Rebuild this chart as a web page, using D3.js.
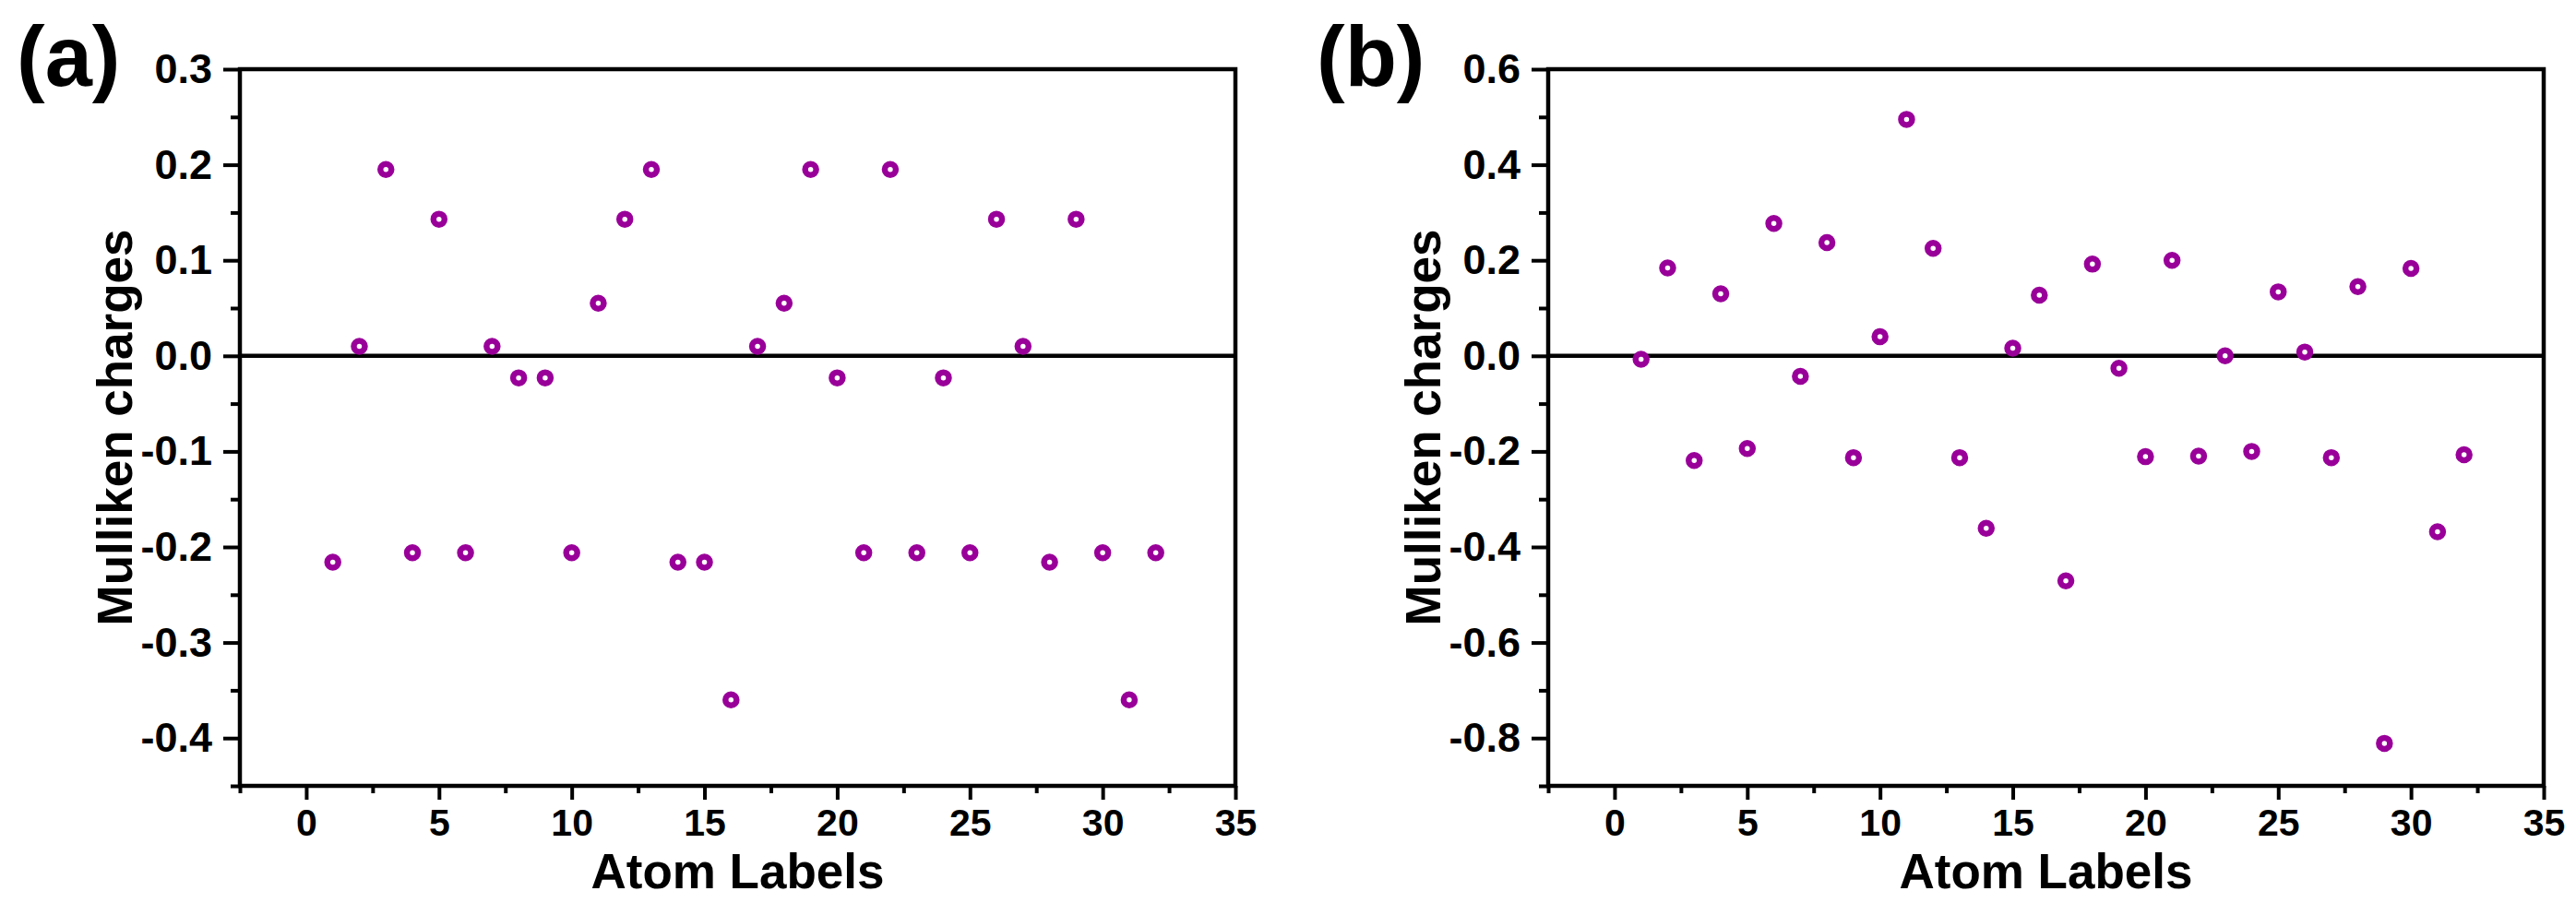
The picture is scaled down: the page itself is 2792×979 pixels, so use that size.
<!DOCTYPE html>
<html><head><meta charset="utf-8">
<script src="https://cdn.jsdelivr.net/npm/d3@7"></script>
<style>
body{margin:0;background:#fff}
svg{display:block}
text{font-family:"Liberation Sans",Arial,sans-serif;font-weight:bold;fill:#000}
</style>
</head><body>
<svg id="chart" width="2792" height="979"></svg>
<script>
// ---- data ----
const atomLabels = [1,2,3,4,5,6,7,8,9,10,11,12,13,14,15,16,17,18,19,20,21,22,23,24,25,26,27,28,29,30,31,32];
const chargesA = [-0.216,0.010,0.195,-0.206,0.143,-0.206,0.010,-0.023,-0.023,-0.206,0.055,0.143,0.195,-0.216,-0.216,-0.360,
                  0.010,0.055,0.195,-0.023,-0.206,0.195,-0.206,-0.023,-0.206,0.143,0.010,-0.216,0.143,-0.206,-0.360,-0.206];
const chargesB = [-0.007,0.184,-0.219,0.130,-0.194,0.277,-0.043,0.237,-0.213,0.040,0.495,0.225,-0.213,-0.361,0.016,0.127,
                  -0.471,0.192,-0.026,-0.211,0.200,-0.210,0.000,-0.200,0.134,0.008,-0.213,0.145,-0.811,0.183,-0.368,-0.207];
const xTicks = [0,5,10,15,20,25,30,35];
const xMinorTicks = [-2.5,2.5,7.5,12.5,17.5,22.5,27.5,32.5];
const yTicksA = [-0.4,-0.3,-0.2,-0.1,0.0,0.1,0.2,0.3];
const yMinorA = [-0.45,-0.35,-0.25,-0.15,-0.05,0.05,0.15,0.25];
const yTicksB = [-0.8,-0.6,-0.4,-0.2,0.0,0.2,0.4,0.6];
const yMinorB = [-0.9,-0.7,-0.5,-0.3,-0.1,0.1,0.3,0.5];
const xDomain = [-2.5,35];
const yDomainA = [-0.45,0.3];
const yDomainB = [-0.9,0.6];
const panelLetters = ["(a)","(b)"];
const xTitle = "Atom Labels";
const yTitle = "Mulliken charges";

// ---- layout ----
const svg = d3.select("#chart");
const plotTop = 75, plotBottom = 852;
const markerColor = "#990099";
const lw = 4.5;

const panels = [
  {left:260, right:1339, letterX:18, letter:panelLetters[0], data:chargesA, yDomain:yDomainA, yTicks:yTicksA, yMinor:yMinorA},
  {left:1678, right:2757, letterX:1427, letter:panelLetters[1], data:chargesB, yDomain:yDomainB, yTicks:yTicksB, yMinor:yMinorB}
];

panels.forEach(p => {
  const x = d3.scaleLinear().domain(xDomain).range([p.left, p.right]);
  const y = d3.scaleLinear().domain(p.yDomain).range([plotBottom, plotTop]);
  const g = svg.append("g");

  // minor ticks
  const xMinorAxis = d3.axisBottom(x).tickValues(xMinorTicks).tickSize(8).tickFormat("");
  const yMinorAxis = d3.axisLeft(y).tickValues(p.yMinor).tickSize(10).tickFormat("");
  g.append("g").attr("transform",`translate(0,${plotBottom})`).call(xMinorAxis);
  g.append("g").attr("transform",`translate(${p.left},0)`).call(yMinorAxis);

  // major ticks
  const xAxis = d3.axisBottom(x).tickValues(xTicks).tickSize(15).tickPadding(10).tickFormat(d => String(d));
  const yAxis = d3.axisLeft(y).tickValues(p.yTicks).tickSize(18).tickPadding(12).tickFormat(d => d.toFixed(1));
  const gx = g.append("g").attr("transform",`translate(0,${plotBottom})`).call(xAxis);
  const gy = g.append("g").attr("transform",`translate(${p.left},0)`).call(yAxis);

  g.selectAll(".domain").remove();
  g.selectAll(".tick line").attr("stroke","#000").attr("stroke-width",4);
  gx.selectAll(".tick text").style("font-size","41px").attr("fill","#000");
  gy.selectAll(".tick text").style("font-size","45px").attr("fill","#000");

  // frame
  g.append("rect").attr("x",p.left).attr("y",plotTop)
    .attr("width",p.right-p.left).attr("height",plotBottom-plotTop)
    .attr("fill","none").attr("stroke","#000").attr("stroke-width",lw);

  // zero line
  g.append("line").attr("x1",x(xDomain[0])).attr("x2",x(xDomain[1]))
    .attr("y1",y(0)).attr("y2",y(0)).attr("stroke","#000").attr("stroke-width",lw);

  // points
  g.selectAll("circle.pt").data(p.data).enter().append("circle")
    .attr("class","pt")
    .attr("cx",(d,i)=>x(atomLabels[i]))
    .attr("cy",d=>y(d))
    .attr("r",6)
    .attr("fill","#fff")
    .attr("stroke",markerColor)
    .attr("stroke-width",6.5);

  // titles
  g.append("text").attr("x",(p.left+p.right)/2).attr("y",963)
    .attr("text-anchor","middle").style("font-size","53px").text(xTitle);
  g.append("text")
    .attr("transform",`translate(${p.left-117},${(plotTop+plotBottom)/2}) rotate(-90)`)
    .attr("text-anchor","middle").style("font-size","53px").text(yTitle);
  g.append("text").attr("x",p.letterX).attr("y",93)
    .style("font-size","92px").text(p.letter);
});
</script>
</body></html>
